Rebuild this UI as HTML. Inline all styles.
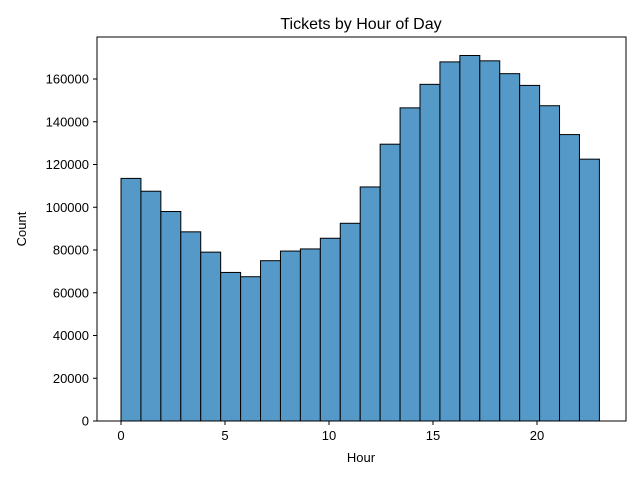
<!DOCTYPE html>
<html><head><meta charset="utf-8"><style>
body{margin:0;background:#fff;font-family:"Liberation Sans","DejaVu Sans",sans-serif;}
</style></head><body>
<svg id="chart" width="640" height="480" xmlns="http://www.w3.org/2000/svg">
<rect width="640" height="480" fill="#fff"/>
<text x="361" y="29" font-size="16" text-anchor="middle">Tickets by Hour of Day</text>
<g id="bars"></g>
<g id="axes"></g>
<rect x="97" y="37" width="529" height="384" fill="none" stroke="#000" stroke-width="1"/>
<text x="361" y="462" font-size="13" text-anchor="middle">Hour</text>
<text x="26" y="229" font-size="13" text-anchor="middle" transform="rotate(-90 26 229)">Count</text>
</svg>
<script>
const counts = [113500,107500,98000,88500,79000,69500,67500,75000,79500,80500,85500,92500,109500,129500,146500,157500,168000,171000,168500,162500,157000,147500,134000,122500];
const xTicks = [0,5,10,15,20];
const yTicks = [0,20000,40000,60000,80000,100000,120000,140000,160000];
const xMin = 0, xMax = 23;

const ns = "http://www.w3.org/2000/svg";
function sx(v){ return 121 + (v - (-0)) * 20.8; }
function sy(v){ return 421 - v * 342 / 160000; }
const bars = document.getElementById('bars');
const axes = document.getElementById('axes');
const bw = (xMax - xMin) / counts.length;
counts.forEach((c,i)=>{
  const r = document.createElementNS(ns,'rect');
  const x0 = sx(xMin + i*bw), x1 = sx(xMin + (i+1)*bw);
  r.setAttribute('x', x0); r.setAttribute('y', sy(c));
  r.setAttribute('width', x1 - x0); r.setAttribute('height', sy(0) - sy(c));
  r.setAttribute('fill', '#5499c7'); r.setAttribute('fill-opacity','1');
  r.setAttribute('stroke', '#000'); r.setAttribute('stroke-width','1');
  
  
  bars.appendChild(r);
});
xTicks.forEach(t=>{
  const l = document.createElementNS(ns,'line');
  l.setAttribute('x1', sx(t)); l.setAttribute('x2', sx(t));
  l.setAttribute('y1', 421); l.setAttribute('y2', 425); l.setAttribute('stroke','#000');
  
  
  axes.appendChild(l);
  const tx = document.createElementNS(ns,'text');
  tx.setAttribute('x', sx(t)); tx.setAttribute('y', 440);
  tx.setAttribute('font-size','13'); tx.setAttribute('text-anchor','middle');
  tx.textContent = t;
  
  
  axes.appendChild(tx);
});
yTicks.forEach(t=>{
  const l = document.createElementNS(ns,'line');
  l.setAttribute('x1', 93); l.setAttribute('x2', 97);
  l.setAttribute('y1', sy(t)); l.setAttribute('y2', sy(t)); l.setAttribute('stroke','#000');
  
  
  axes.appendChild(l);
  const tx = document.createElementNS(ns,'text');
  tx.setAttribute('x', 89); tx.setAttribute('y', sy(t) + 4.5);
  tx.setAttribute('font-size','13'); tx.setAttribute('text-anchor','end');
  tx.textContent = t;
  
  
  axes.appendChild(tx);
});
</script>
</body></html>
